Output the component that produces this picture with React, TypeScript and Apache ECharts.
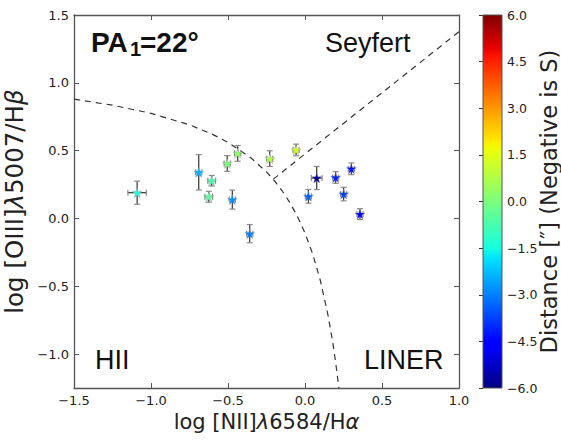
import React, { useEffect, useRef } from "react";
import * as echarts from "echarts";

// ---- data ----
const xNII = [-1.09, -0.69, -0.606, -0.625, -0.505, -0.437, -0.472, -0.359, -0.229, -0.058, 0.022, 0.076, 0.199, 0.251, 0.301, 0.357];
const yOIII = [0.19, 0.34, 0.278, 0.16, 0.405, 0.48, 0.139, -0.112, 0.441, 0.505, 0.163, 0.298, 0.302, 0.18, 0.366, 0.032];
const xErr = [0.06, 0.02, 0.025, 0.025, 0.02, 0.02, 0.02, 0.02, 0.02, 0.02, 0.02, 0.035, 0.02, 0.02, 0.02, 0.02];
const yErr = [0.085, 0.13, 0.039, 0.04, 0.058, 0.058, 0.07, 0.067, 0.058, 0.043, 0.051, 0.085, 0.043, 0.05, 0.043, 0.04];
const distance = [-1.3, -2.4, -0.8, -0.5, 0.0, 0.3, -2.8, -3.0, 0.8, 1.3, -3.4, -5.8, -4.1, -3.7, -4.3, -4.7];

// demarcation curve (HII / AGN)
const curveX = [-1.5, -1.25, -1.0, -0.75, -0.6, -0.5, -0.35, -0.25, -0.2, -0.15, -0.1, -0.05, 0.0, 0.05, 0.1, 0.15, 0.18, 0.2, 0.22];
const curveY = [0.88, 0.835, 0.775, 0.69, 0.62, 0.561, 0.446, 0.343, 0.28, 0.206, 0.12, 0.017, -0.108, -0.262, -0.459, -0.716, -0.913, -1.069, -1.25];
// Seyfert / LINER line
const lineX = [-0.206, 1.0];
const lineY = [0.29, 1.377];

const xTicks = { min: -1.5, max: 1.0, interval: 0.5 };
const yRange = { min: -1.25, max: 1.5 };
const cbTicks = { min: -6, max: 6, interval: 1.5 };

// jet colormap (matplotlib segment data)
const jetR = [[0, 0], [0.35, 0], [0.66, 1], [0.89, 1], [1, 0.5]];
const jetG = [[0, 0], [0.125, 0], [0.375, 1], [0.64, 1], [0.91, 0], [1, 0]];
const jetB = [[0, 0.5], [0.11, 1], [0.34, 1], [0.65, 0], [1, 0]];
function seg(t: number, s: number[][]) {
  for (let i = 1; i < s.length; i++) {
    if (t <= s[i][0]) {
      const [t0, v0] = s[i - 1];
      const [t1, v1] = s[i];
      return v0 + ((t - t0) / (t1 - t0)) * (v1 - v0);
    }
  }
  return s[s.length - 1][1];
}
function jet(t: number) {
  const h = (v: number) => Math.round(v * 255).toString(16).padStart(2, "0");
  return "#" + h(seg(t, jetR)) + h(seg(t, jetG)) + h(seg(t, jetB));
}
const NSTOP = 64;
const jetColors = Array.from({ length: NSTOP + 1 }, (_, i) => jet(i / NSTOP));

const STAR = "path://M50,0 L61.2,34.5 L97.6,34.5 L68.2,55.9 L79.4,90.5 L50,69.1 L20.6,90.5 L31.8,55.9 L2.4,34.5 L38.8,34.5 Z";

const fmt = (v: number) => v.toFixed(1).replace("-", "\u2212");

const FRAME = "#555";
const TXT = "#222";
const ANN = "#111";

export default function App() {
  const ref = useRef<HTMLDivElement>(null);
  useEffect(() => {
    if (!ref.current) return;
    const chart = echarts.init(ref.current, undefined, { renderer: "svg" });
    const tickStyle = { show: true, inside: true, length: 5, lineStyle: { color: FRAME, width: 1 } };
    const lineStyleAx = { show: true, onZero: false, lineStyle: { color: FRAME, width: 1.3 } };
    const labelStyle = { color: TXT, fontSize: 13, fontFamily: "DejaVu Sans" };
    const annFont = { fill: ANN, fontFamily: "Liberation Sans", verticalAlign: "middle", align: "left" };
    const option: any = {
      animation: false,
      backgroundColor: "#fff",
      grid: [
        { left: 74, top: 15, width: 385, height: 373, containLabel: false, outerBoundsMode: "none" },
        { left: 483, top: 15, width: 19, height: 373, containLabel: false, outerBoundsMode: "none" },
      ],
      xAxis: [
        {
          type: "value", gridIndex: 0, position: "bottom", ...xTicks,
          axisLine: lineStyleAx, axisTick: tickStyle, splitLine: { show: false },
          axisLabel: { ...labelStyle, margin: 6, formatter: fmt },
          name: "log [NII]{i|λ}6584/H{i|α}", nameLocation: "middle", nameGap: 22,
          nameTextStyle: { color: TXT, fontSize: 21, fontFamily: "DejaVu Sans", rich: { i: { fontStyle: "italic", fontSize: 21, fontFamily: "DejaVu Sans", color: TXT } } },
        },
        {
          type: "value", gridIndex: 0, position: "top", ...xTicks,
          axisLine: lineStyleAx, axisTick: tickStyle, splitLine: { show: false }, axisLabel: { show: false },
        },
        { type: "value", gridIndex: 1, min: 0, max: 1, show: false },
      ],
      yAxis: [
        {
          type: "value", gridIndex: 0, position: "left", ...yRange,
          axisLine: lineStyleAx, axisTick: tickStyle, splitLine: { show: false },
          axisLabel: { ...labelStyle, margin: 5, showMinLabel: false, formatter: (v: number) => (Math.abs(v - yRange.min) < 1e-9 ? "" : fmt(v)) },
          name: "log [OIII]{i|λ}5007/H{i|β}", nameLocation: "middle", nameGap: 40, nameRotate: 90,
          nameTextStyle: { color: TXT, fontSize: 24.5, fontFamily: "DejaVu Sans", rich: { i: { fontStyle: "italic", fontSize: 24.5, fontFamily: "DejaVu Sans", color: TXT } } },
        },
        {
          type: "value", gridIndex: 0, position: "right", ...yRange,
          axisLine: lineStyleAx, axisTick: tickStyle, splitLine: { show: false }, axisLabel: { show: false },
        },
        {
          type: "value", gridIndex: 1, position: "right", ...cbTicks,
          axisLine: { show: false }, axisTick: { show: true, inside: true, length: 4, lineStyle: { color: "#333" } },
          splitLine: { show: false },
          axisLabel: { ...labelStyle, fontSize: 12.5, margin: 5, formatter: fmt },
          name: "Distance [″] (Negative is S)", nameLocation: "middle", nameGap: 35, nameRotate: 90, nameMoveOverlap: false,
          nameTextStyle: { color: TXT, fontSize: 22.5, fontFamily: "DejaVu Sans" },
        },
      ],
      visualMap: {
        type: "continuous", show: false, min: cbTicks.min, max: cbTicks.max, dimension: 2, seriesIndex: 3,
        inRange: { color: jetColors },
      },
      series: [
        {
          type: "line", xAxisIndex: 0, yAxisIndex: 0, silent: true, showSymbol: false, symbol: "none",
          data: curveX.map((x, i) => [x, curveY[i]]),
          lineStyle: { color: "#333", width: 1.2, type: [6, 5] }, z: 1,
        },
        {
          type: "line", xAxisIndex: 0, yAxisIndex: 0, silent: true, showSymbol: false, symbol: "none",
          data: lineX.map((x, i) => [x, lineY[i]]),
          lineStyle: { color: "#333", width: 1.2, type: [6, 5] }, z: 1,
        },
        {
          type: "custom", xAxisIndex: 0, yAxisIndex: 0, silent: true, z: 2,
          encode: { x: 0, y: 1 },
          data: xNII.map((x, i) => [x, yOIII[i], xErr[i], yErr[i]]),
          renderItem: (params: any, api: any) => {
            const x = api.value(0), y = api.value(1), ex = api.value(2), ey = api.value(3);
            const c = api.coord([x, y]);
            const l = api.coord([x - ex, y]);
            const r = api.coord([x + ex, y]);
            const t = api.coord([x, y + ey]);
            const b = api.coord([x, y - ey]);
            const cap = 3;
            const bar = { stroke: "#333", lineWidth: 1.2 };
            const capS = { stroke: "#8a8a8a", lineWidth: 1.2 };
            return {
              type: "group",
              children: [
                { type: "line", shape: { x1: l[0], y1: c[1], x2: r[0], y2: c[1] }, style: bar },
                { type: "line", shape: { x1: c[0], y1: t[1], x2: c[0], y2: b[1] }, style: bar },
                { type: "line", shape: { x1: l[0], y1: c[1] - cap, x2: l[0], y2: c[1] + cap }, style: capS },
                { type: "line", shape: { x1: r[0], y1: c[1] - cap, x2: r[0], y2: c[1] + cap }, style: capS },
                { type: "line", shape: { x1: c[0] - cap, y1: t[1], x2: c[0] + cap, y2: t[1] }, style: capS },
                { type: "line", shape: { x1: c[0] - cap, y1: b[1], x2: c[0] + cap, y2: b[1] }, style: capS },
              ],
            };
          },
        },
        {
          type: "scatter", xAxisIndex: 0, yAxisIndex: 0, z: 3,
          symbol: STAR, symbolSize: 10,
          itemStyle: { borderColor: "rgba(150,150,150,0.6)", borderWidth: 0.6, opacity: 1 },
          data: xNII.map((x, i) => [x, yOIII[i], distance[i]]),
        },
        {
          type: "custom", xAxisIndex: 2, yAxisIndex: 2, silent: true,
          data: [[0, cbTicks.min, 1, cbTicks.max]],
          renderItem: (params: any, api: any) => {
            const p0 = api.coord([api.value(0), api.value(1)]);
            const p1 = api.coord([api.value(2), api.value(3)]);
            return {
              type: "rect",
              shape: { x: p0[0], y: p1[1], width: p1[0] - p0[0], height: p0[1] - p1[1] },
              style: {
                fill: new echarts.graphic.LinearGradient(0, 1, 0, 0, jetColors.map((c, i) => ({ offset: i / NSTOP, color: c }))),
                stroke: FRAME, lineWidth: 1,
              },
            };
          },
        },
      ],
      graphic: [
        { type: "text", x: 91, y: 42, style: { ...annFont, text: "PA", fontSize: 28, fontWeight: "bold" } },
        { type: "text", x: 130, y: 49, style: { ...annFont, text: "1", fontSize: 20, fontWeight: "bold" } },
        { type: "text", x: 140, y: 42, style: { ...annFont, text: "=22°", fontSize: 28, fontWeight: "bold" } },
        { type: "text", x: 325, y: 43, style: { ...annFont, text: "Seyfert", fontSize: 27 } },
        { type: "text", x: 95, y: 360, style: { ...annFont, text: "HII", fontSize: 27 } },
        { type: "text", x: 364, y: 360, style: { ...annFont, text: "LINER", fontSize: 27 } },
      ],
    };
    chart.setOption(option);
    return () => chart.dispose();
  }, []);
  return <div ref={ref} style={{ width: 561, height: 440, position: "absolute", left: 0, top: 0 }} />;
}
